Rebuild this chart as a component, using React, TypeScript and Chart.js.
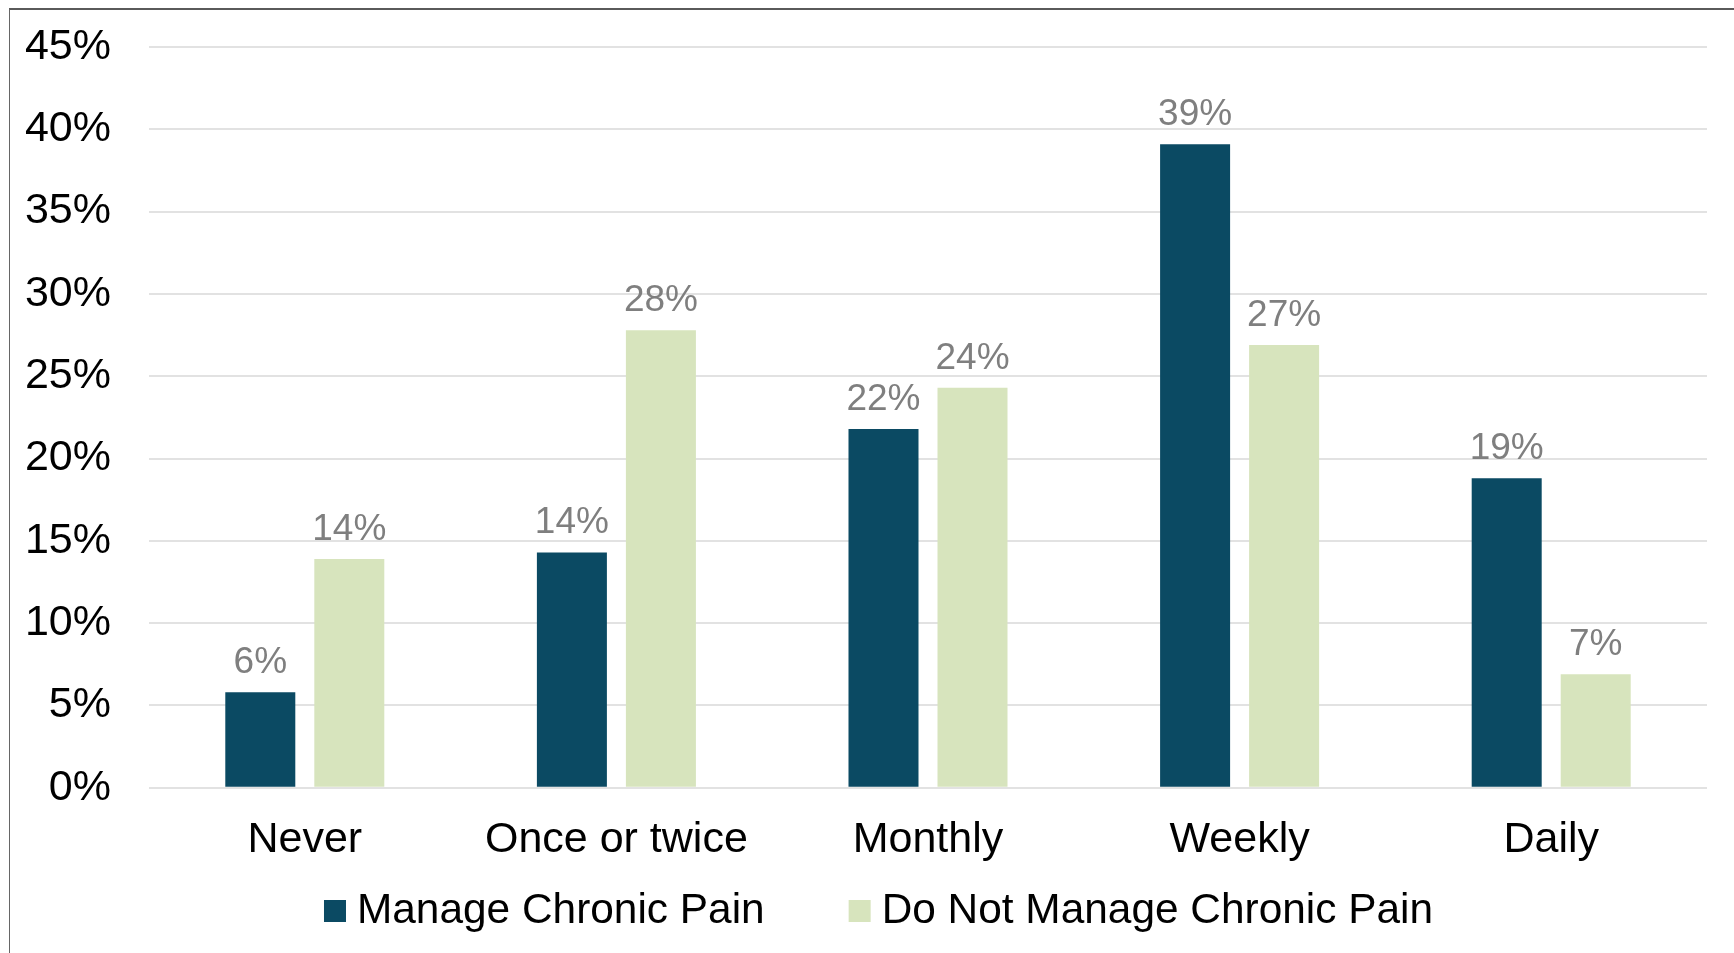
import React, { useEffect, useRef } from "react";
import { Chart, registerables } from "chart.js";

Chart.register(...registerables);

const categories = ["Never", "Once or twice", "Monthly", "Weekly", "Daily"];
const seriesLabels = ["Manage Chronic Pain", "Do Not Manage Chronic Pain"];
const manageValues = [5.8, 14.3, 21.8, 39.1, 18.8];
const notManageValues = [13.9, 27.8, 24.3, 26.9, 6.9];
const seriesColors = ["#0b4a63", "#d7e4bd"];
const yMin = 0;
const yMax = 45;
const yStep = 5;

const FONT = '"Liberation Sans", Arial, Helvetica, sans-serif';

const valueLabelPlugin = {
  id: "valueLabels",
  afterDatasetsDraw(chart: any) {
    const ctx = chart.ctx;
    ctx.save();
    ctx.font = `37px ${FONT}`;
    ctx.fillStyle = "#7f7f7f";
    ctx.textAlign = "center";
    ctx.textBaseline = "alphabetic";
    chart.data.datasets.forEach((ds: any, di: number) => {
      const meta = chart.getDatasetMeta(di);
      meta.data.forEach((bar: any, i: number) => {
        const v = ds.data[i];
        ctx.fillText(`${Math.round(v)}%`, bar.x, bar.y - 19);
      });
    });
    ctx.restore();
  },
};

const legendPlugin = {
  id: "customLegend",
  afterDraw(chart: any) {
    const ctx = chart.ctx;
    ctx.save();
    ctx.font = `42.4px ${FONT}`;
    const box = 22;
    const gap = 11;
    const spacing = 84;
    const items = chart.data.datasets.map((ds: any) => ({
      label: ds.label as string,
      color: ds.backgroundColor as string,
      w: ctx.measureText(ds.label).width,
    }));
    const total =
      items.reduce((s: number, it: any) => s + box + gap + it.w, 0) +
      spacing * (items.length - 1);
    const centerX = chart.width / 2 + 6.5;
    let x = centerX - total / 2;
    const boxTop = 890;
    const baseline = 913;
    ctx.textAlign = "left";
    ctx.textBaseline = "alphabetic";
    items.forEach((it: any) => {
      ctx.fillStyle = it.color;
      ctx.fillRect(x, boxTop, box, box);
      ctx.fillStyle = "#000000";
      ctx.fillText(it.label, x + box + gap, baseline);
      x += box + gap + it.w + spacing;
    });
    ctx.restore();
  },
};

function BarChart() {
  const ref = useRef<HTMLCanvasElement | null>(null);

  useEffect(() => {
    if (!ref.current) return;
    Chart.defaults.font.family = FONT;
    const chart = new Chart(ref.current, {
      type: "bar",
      data: {
        labels: categories,
        datasets: [
          {
            label: seriesLabels[0],
            data: manageValues,
            backgroundColor: seriesColors[0],
            categoryPercentage: 0.5713,
            barPercentage: 0.7865,
          },
          {
            label: seriesLabels[1],
            data: notManageValues,
            backgroundColor: seriesColors[1],
            categoryPercentage: 0.5713,
            barPercentage: 0.7865,
          },
        ],
      },
      options: {
        responsive: false,
        animation: false,
        devicePixelRatio: 1,
        layout: {
          padding: { top: 37, left: 15, right: 27, bottom: 86.6 },
        },
        plugins: {
          legend: { display: false },
          tooltip: { enabled: false },
          title: { display: false },
        },
        scales: {
          x: {
            grid: { display: false, drawTicks: false },
            border: { display: false },
            ticks: {
              color: "#000000",
              font: { size: 43, family: FONT },
              padding: 27,
              maxRotation: 0,
              autoSkip: false,
            },
            afterFit: (scale: any) => {
              scale.height = 27 + 51.6;
              scale.paddingLeft = 0;
              scale.paddingRight = 0;
            },
          },
          y: {
            min: yMin,
            max: yMax,
            grid: { color: "#e2e2e2", lineWidth: 2, drawTicks: false },
            border: { display: false },
            ticks: {
              stepSize: yStep,
              color: "#000000",
              font: { size: 43, family: FONT },
              padding: 38,
              callback: (v: any) => `${v}%`,
            },
            afterFit: (scale: any) => {
              scale.width = 124;
              scale.paddingTop = 0;
              scale.paddingBottom = 0;
            },
          },
        },
      },
      plugins: [valueLabelPlugin, legendPlugin],
    });
    return () => chart.destroy();
  }, []);

  return (
    <canvas
      ref={ref}
      width={1724}
      height={943}
      style={{ display: "block", position: "absolute", left: 10, top: 10 }}
    />
  );
}

export default function App() {
  return (
    <div
      style={{
        position: "fixed",
        left: 0,
        top: 0,
        width: 1734,
        height: 953,
        overflow: "hidden",
        background: "#ffffff",
      }}
    >
      <div
        style={{
          position: "absolute",
          left: 9,
          top: 8,
          width: 1800,
          height: 1000,
          borderLeft: "1px solid #666666",
          borderTop: "2px solid #5a5a5a",
        }}
      />
      <BarChart />
    </div>
  );
}
